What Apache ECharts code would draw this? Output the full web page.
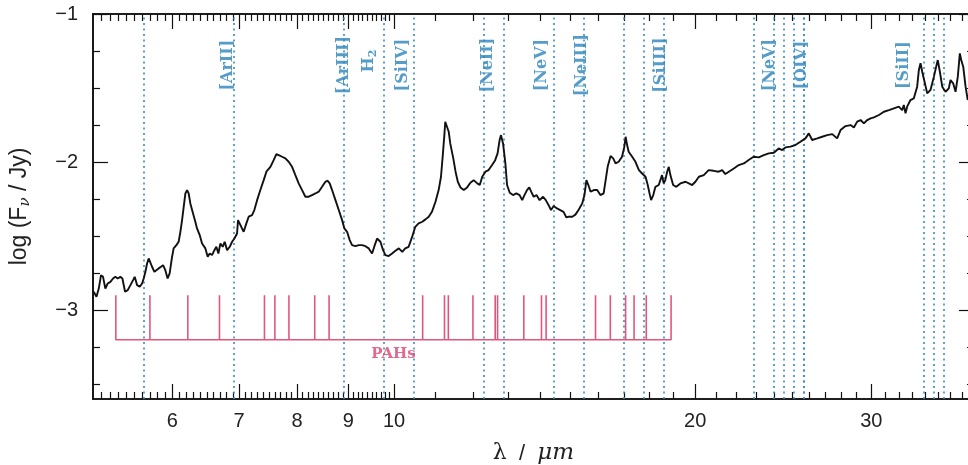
<!DOCTYPE html>
<html><head><meta charset="utf-8">
<script src="https://cdn.jsdelivr.net/npm/echarts@6/dist/echarts.min.js"></script>
<style>html,body{margin:0;padding:0;background:#fff}#c{width:968px;height:465px}</style>
</head><body><div id="c"></div>
<script>
// ---- data ----
const wavelength = [
5.008,5.040,5.067,5.093,5.117,5.144,5.172,5.204,5.236,5.264,5.292,5.325,5.350,5.383,5.416,5.450,5.483,5.504,5.534,5.568,
5.598,5.619,5.641,5.663,5.684,5.706,5.728,5.759,5.785,5.816,5.848,5.875,5.906,5.937,5.965,5.998,6.020,6.058,6.090,6.114,
6.138,6.161,6.185,6.209,6.232,6.256,6.295,6.328,6.353,6.392,6.427,6.476,6.511,6.541,6.577,6.612,6.642,6.673,6.704,6.740,
6.771,6.808,6.850,6.887,6.924,6.966,6.982,7.010,7.073,7.117,7.155,7.211,7.249,7.295,7.350,7.407,7.453,7.522,7.579,7.626,
7.667,7.727,7.786,7.845,7.907,7.967,8.028,8.091,8.153,8.216,8.279,8.343,8.407,8.472,8.537,8.582,8.622,8.670,8.737,8.804,
8.872,8.919,8.974,9.029,9.078,9.148,9.219,9.290,9.361,9.433,9.506,9.557,9.616,9.652,9.690,9.750,9.802,9.876,9.954,10.03,
10.11,10.19,10.26,10.34,10.43,10.50,10.58,10.67,10.75,10.83,10.91,11.00,11.08,11.14,11.19,11.23,11.25,11.30,11.34,11.38,
11.46,11.52,11.58,11.65,11.74,11.83,11.92,12.01,12.11,12.18,12.25,12.34,12.43,12.53,12.62,12.69,12.75,12.79,12.85,12.92,
12.97,13.05,13.15,13.25,13.35,13.43,13.50,13.58,13.65,13.71,13.79,13.88,13.98,14.09,14.18,14.24,14.30,14.35,14.44,14.55,
14.66,14.77,14.87,14.95,15.07,15.18,15.30,15.42,15.50,15.57,15.64,15.72,15.84,15.96,16.08,16.20,16.27,16.35,16.46,16.56,
16.65,16.77,16.90,16.99,17.04,17.10,17.16,17.30,17.43,17.57,17.70,17.84,17.93,18.02,18.07,18.16,18.25,18.39,18.53,18.60,
18.67,18.75,18.82,18.89,19.01,19.15,19.33,19.56,19.71,19.86,20.01,20.17,20.40,20.63,20.87,21.11,21.28,21.44,21.61,21.86,
22.11,22.37,22.62,22.88,23.15,23.42,23.69,23.97,24.24,24.43,24.62,24.90,25.19,25.48,25.78,25.98,26.18,26.49,26.79,27.10,
27.42,27.73,27.95,28.27,28.60,28.82,29.04,29.27,29.49,29.72,29.95,30.18,30.53,30.88,31.24,31.60,31.96,32.21,32.33,32.46,
32.58,32.83,33.08,33.34,33.47,33.60,33.73,33.91,34.12,34.38,34.65,34.86,34.96,35.13,35.32,35.59,35.86,36.00,36.22,36.42,
36.61,36.78,36.90,37.07,37.27,37.46];
const logFlux = [
-2.876,-2.910,-2.854,-2.764,-2.775,-2.854,-2.820,-2.809,-2.786,-2.775,-2.786,-2.775,-2.786,-2.876,-2.865,-2.831,-2.797,-2.775,-2.831,-2.842,
-2.820,-2.786,-2.741,-2.685,-2.651,-2.662,-2.707,-2.741,-2.730,-2.718,-2.707,-2.696,-2.730,-2.786,-2.752,-2.640,-2.583,-2.561,-2.538,-2.471,
-2.392,-2.302,-2.212,-2.189,-2.212,-2.279,-2.347,-2.403,-2.448,-2.493,-2.550,-2.583,-2.640,-2.617,-2.628,-2.595,-2.572,-2.617,-2.550,-2.572,
-2.538,-2.595,-2.572,-2.538,-2.516,-2.482,-2.392,-2.400,-2.471,-2.414,-2.369,-2.358,-2.324,-2.257,-2.189,-2.122,-2.065,-2.032,-1.987,-1.946,
-1.953,-1.964,-1.975,-1.998,-2.032,-2.088,-2.144,-2.189,-2.234,-2.234,-2.223,-2.212,-2.200,-2.167,-2.133,-2.126,-2.144,-2.189,-2.257,-2.324,
-2.392,-2.448,-2.471,-2.527,-2.561,-2.568,-2.561,-2.561,-2.568,-2.583,-2.617,-2.568,-2.516,-2.505,-2.538,-2.595,-2.628,-2.635,-2.617,-2.599,
-2.583,-2.606,-2.583,-2.572,-2.500,-2.437,-2.414,-2.403,-2.387,-2.369,-2.336,-2.268,-2.189,-2.099,-1.941,-1.806,-1.728,-1.739,-1.795,-1.874,
-1.975,-2.065,-2.133,-2.171,-2.189,-2.171,-2.140,-2.122,-2.144,-2.155,-2.099,-2.065,-2.054,-2.020,-1.987,-1.941,-1.851,-1.818,-1.874,-2.009,
-2.155,-2.207,-2.223,-2.212,-2.223,-2.257,-2.223,-2.189,-2.171,-2.200,-2.234,-2.223,-2.257,-2.234,-2.257,-2.245,-2.302,-2.324,-2.297,-2.313,
-2.324,-2.336,-2.374,-2.369,-2.369,-2.355,-2.320,-2.279,-2.223,-2.122,-2.155,-2.200,-2.189,-2.189,-2.223,-2.212,-2.200,-2.032,-1.959,-1.975,
-2.009,-1.998,-1.964,-1.896,-1.829,-1.885,-1.930,-1.964,-1.998,-2.054,-2.077,-2.099,-2.155,-2.223,-2.257,-2.223,-2.167,-2.155,-2.088,-2.144,
-2.122,-2.065,-2.032,-2.088,-2.155,-2.167,-2.144,-2.133,-2.144,-2.155,-2.133,-2.099,-2.088,-2.054,-2.059,-2.065,-2.054,-2.081,-2.065,-2.043,
-2.020,-2.009,-1.986,-1.964,-1.968,-1.953,-1.941,-1.937,-1.908,-1.919,-1.901,-1.896,-1.885,-1.863,-1.840,-1.806,-1.851,-1.840,-1.829,-1.818,
-1.811,-1.840,-1.784,-1.757,-1.750,-1.766,-1.727,-1.716,-1.739,-1.716,-1.705,-1.698,-1.682,-1.660,-1.649,-1.637,-1.626,-1.649,-1.615,-1.671,
-1.626,-1.581,-1.570,-1.491,-1.378,-1.333,-1.390,-1.457,-1.536,-1.513,-1.423,-1.345,-1.311,-1.390,-1.491,-1.525,-1.502,-1.446,-1.468,-1.525,
-1.423,-1.266,-1.311,-1.356,-1.491,-1.581];

const pahBands = [5.27,5.70,6.22,6.69,7.42,7.60,7.85,8.33,8.61,10.68,11.23,11.33,11.99,12.62,12.69,13.48,14.04,14.19,15.90,16.45,17.04,17.375,17.87,18.92];
const pahTop = -2.9, pahBase = -3.2, pahLabelLevel = -3.3;
const pahLabel = 'PAHs';

const lineWavelengths = [5.60,6.98,8.99,9.667,10.50,12.29,12.80,14.31,15.60,17.05,17.97,18.80,22.94,23.97,24.30,25.15,25.89,26.00,33.50,34.80,35.40];
const lineLabelText = ['[ArII]','[ArIII]','H{sub|2}','[SiIV]','[NeII]','[NeV]','[NeIII]','[SiIII]','[NeV]','[OIV]','[SiII]'];
const lineLabelWavelength = [6.98,8.99,9.667,10.50,12.80,14.31,15.60,18.80,24.30,25.89,33.50];
const lineLabelLevel = -1.345;

const xTickLabels = [6,7,8,9,10,20,30];
const yTickLabels = [-3,-2,-1];
const xRange = [5,38], yRange = [-3.6,-1];

// ---- styles (pixel offsets of the line labels, across the line) ----
const lineLabelDx = [-10,-4,-11,-12,-13,-8,-5,-7,-10,-5,-15];
const lineLabelDy = [0,0,4,0,0,0,0,0,0,0,0];

// ---- axis decoration ----
const lg = Math.log10;
const xMinor = [];
for (let i = 51; i < 100; i++) if (i % 10) xMinor.push(lg(i/10));
for (let i = 11; i <= 38; i++) if (i !== 20 && i !== 30) xMinor.push(lg(i));
const yMinor = [-3.5,-3.25,-2.75,-2.5,-2.25,-1.75,-1.5,-1.25];

const axisCol = '#111';
function xAx(pos, ticks, len, labels) {
  return {type:'value', position:pos, min:lg(xRange[0]), max:lg(xRange[1]),
    axisLine:{show:true, onZero:false, lineStyle:{color:axisCol, width:1.6}},
    axisTick:{show:true, inside:true, length:len, customValues:ticks, lineStyle:{color:axisCol, width:1.2}},
    axisLabel:labels ? {show:true, customValues:ticks, margin:12, color:'#222', fontSize:20, fontFamily:'Liberation Sans',
      formatter:v=>String(Math.round(Math.pow(10,v)))} : {show:false},
    splitLine:{show:false}};
}
function yAx(pos, ticks, len, labels) {
  return {type:'value', position:pos, min:yRange[0], max:yRange[1],
    axisLine:{show:true, onZero:false, lineStyle:{color:axisCol, width:1.6}},
    axisTick:{show:true, inside:true, length:len, customValues:ticks, lineStyle:{color:axisCol, width:1.2}},
    axisLabel:labels ? {show:true, customValues:ticks, margin:15, color:'#222', fontSize:20, fontFamily:'Liberation Sans',
      formatter:v=>'\u2212'+Math.abs(v)} : {show:false},
    splitLine:{show:false}};
}
const xMajor = xTickLabels.map(lg);
const xs = [xAx('bottom',xMajor,15,true), xAx('bottom',xMinor,7,false), xAx('top',xMajor,15,false), xAx('top',xMinor,7,false)];
xs[0].name = '{l|\u03bb}  /  {m|\u03bcm}';
xs[0].nameLocation = 'middle';
xs[0].nameGap = 43;
xs[0].nameTextStyle = {fontSize:22, color:'#222', fontFamily:'Liberation Sans',
  rich:{l:{fontSize:22, fontFamily:'DejaVu Serif', color:'#222'}, m:{fontSize:23, fontFamily:'DejaVu Serif', fontStyle:'italic', color:'#222'}}};
const ys = [yAx('left',yTickLabels,15,true), yAx('left',yMinor,7,false), yAx('right',yTickLabels,15,false), yAx('right',yMinor,7,false)];
ys[0].name = 'log (F{s|\u03bd} / Jy)';
ys[0].nameLocation = 'middle';
ys[0].nameGap = 60;
ys[0].nameRotate = 90;
ys[0].nameTextStyle = {fontSize:23, color:'#222', fontFamily:'Liberation Sans', rich:{s:{fontSize:15, color:'#222', padding:[11,0,0,0], fontFamily:'DejaVu Serif', fontStyle:'italic'}}};

// PAH comb
const pahPath = [];
pahBands.forEach((w,i)=>{
  if (i === 0) { pahPath.push([lg(w),pahTop]); pahPath.push([lg(w),pahBase]); }
  else { pahPath.push([lg(w),pahBase]); pahPath.push([lg(w),pahTop]); pahPath.push([lg(w),pahBase]); }
});
pahPath.pop();

const blue = '#3b8dc2';
const option = {
  animation:false,
  grid:{left:93, top:14, width:881, height:385, containLabel:false, outerBoundsMode:'none'},
  xAxis:xs, yAxis:ys,
  series:[
    {type:'line', data:wavelength.map((w,i)=>[lg(w),logFlux[i]]), symbol:'none', z:5,
     lineStyle:{color:'#111', width:1.9},
     markLine:{silent:true, symbol:['none','none'], label:{show:false}, animation:false,
       lineStyle:{color:blue, type:[2,3.5], width:1.6},
       data:lineWavelengths.map(w=>({xAxis:lg(w)}))}},
    {type:'line', data:pahPath, symbol:'none', z:4, lineStyle:{color:'#e0577e', width:1.6}},
    {type:'scatter', symbolSize:0, z:6,
     data:[[ (lg(pahBands[0])+lg(pahBands[pahBands.length-1]))/2, pahLabelLevel ]],
     label:{show:true, position:'inside', formatter:pahLabel, color:'#d9466f', fontSize:15, fontWeight:'bold', fontFamily:'DejaVu Serif'}},
    {type:'scatter', symbolSize:0, z:6,
     data:lineLabelWavelength.map((w,i)=>({value:[lg(w),lineLabelLevel],
        label:{formatter:lineLabelText[i], offset:[lineLabelDy[i],lineLabelDx[i]]}})),
     label:{show:true, position:'inside', rotate:90, color:'#2b84ba', fontSize:16, fontWeight:'bold', fontFamily:'DejaVu Serif',
       rich:{sub:{fontSize:11, fontWeight:'bold', color:'#2b84ba', fontFamily:'DejaVu Serif', verticalAlign:'bottom', padding:[9,0,0,0]}}}}
  ]
};
const chart = echarts.init(document.getElementById('c'), null, {renderer:'canvas'});
chart.setOption(option);
</script></body></html>
